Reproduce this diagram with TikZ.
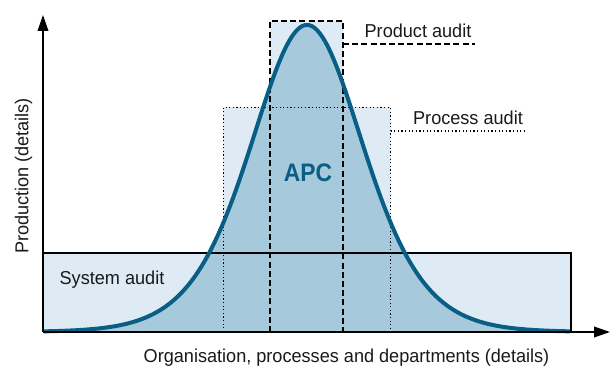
\documentclass[tikz,border=0pt]{standalone}
\usepackage{fontspec}
\setmainfont[FakeStretch=0.97]{Liberation Sans}
\newfontfamily\apcfont[FakeStretch=0.9]{Liberation Sans}
\usetikzlibrary{arrows.meta}
\definecolor{lightfill}{RGB}{222,235,244}
\definecolor{curvefill}{RGB}{167,201,220}
\definecolor{curveline}{RGB}{8,94,132}
\definecolor{txt}{RGB}{25,25,25}
\begin{document}
\begin{tikzpicture}[x=0.75pt,y=-0.75pt,
  lbl/.style={font=\fontsize{14}{16}\selectfont, text=txt, inner sep=0pt, anchor=base},
  boxfill/.style={fill=lightfill},
  sysline/.style={draw=black, line width=1.2pt},
  procline/.style={draw=black, line width=1.1pt, dash pattern=on 0.9pt off 1.8pt},
  prodline/.style={draw=black, line width=1.1pt, dash pattern=on 4.5pt off 2.4pt},
  axis/.style={draw=black, line width=1.1pt, -{Triangle[length=12pt,width=8pt]}},
  bell/.style={draw=curveline, line width=3pt, line join=round}]
\useasboundingbox (0,0) rectangle (612,367);
% reference points
\coordinate (O) at (43,332);
\coordinate (ytip) at (43,15);
\coordinate (xtip) at (610,332);
\coordinate (sysTL) at (43,253);
\coordinate (sysBR) at (571,332);
\coordinate (procTL) at (223.3,107.5);
\coordinate (procBR) at (390.5,332);
\coordinate (prodTL) at (270,21);
\coordinate (prodBR) at (343,332);
\coordinate (prodLead) at (343,44);
\coordinate (prodLeadEnd) at (475,44);
\coordinate (procLead) at (390.5,131);
\coordinate (procLeadEnd) at (525,131);
% box fills
\fill[boxfill] (sysTL) rectangle (sysBR);
\fill[boxfill] (procTL) rectangle (procBR);
\fill[boxfill] (prodTL) rectangle (prodBR);
% curve fill
\def\bellfun{plot[domain=-263:263, samples=241, variable=\t] ({307+\t}, {332-307*exp(-3.4*(sqrt(1+(\t/100)*(\t/100))-1))})}
\fill[curvefill] \bellfun -- (570,332) -- (44,332) -- cycle;
% box borders
\draw[sysline] (43,332) -- (sysTL) -- (571,253) -- (sysBR);
\draw[procline] (223.3,332) -- (procTL) -- (390.5,107.5) -- (procBR);
\draw[prodline] (270,332) -- (prodTL) -- (343,21) -- (prodBR);
% leaders
\draw[prodline] (prodLead) -- (prodLeadEnd);
\draw[procline] (procLead) -- (procLeadEnd);
% curve
\draw[bell] \bellfun;
% axes
\draw[axis] (O) -- (ytip);
\draw[axis] (O) -- (xtip);
% labels
\node[lbl] (prod) at (418,37.5) {Product audit};
\node[lbl] (proc) at (468,125) {Process audit};
\node[lbl] (sys) at (112,285) {System audit};
\node[lbl] (xlab) at (346.5,363) {Organisation, processes and departments (details)};
\node[lbl, rotate=90] (ylab) at (28.3,176) {Production (details)};
\node[inner sep=0pt, anchor=base, text=curveline, font=\apcfont\bfseries\fontsize{19}{22}\selectfont] (apc) at (308,181.7) {APC};
\end{tikzpicture}
\end{document}
